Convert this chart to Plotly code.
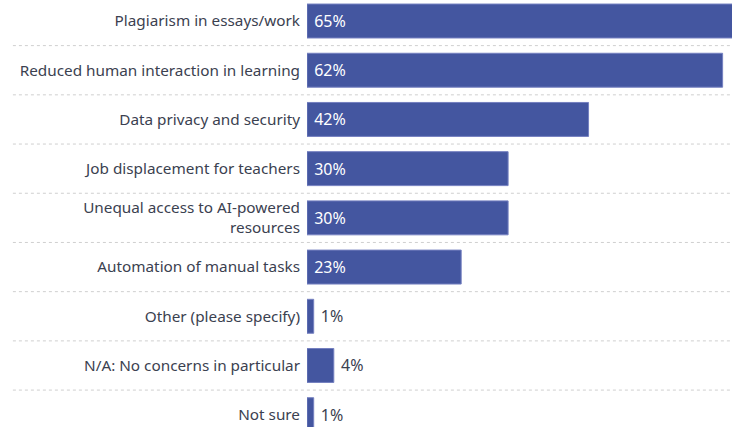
import plotly.graph_objects as go

categories = [
    "Plagiarism in essays/work",
    "Reduced human interaction in learning",
    "Data privacy and security",
    "Job displacement for teachers",
    "Unequal access to AI-powered<br>resources",
    "Automation of manual tasks",
    "Other (please specify)",
    "N/A: No concerns in particular",
    "Not sure",
]
values = [65, 62, 42, 30, 30, 23, 1, 4, 1]

BAR_COLOR = "#4456a0"
TEXT_COLOR = "#3b4150"
FONT = "Noto Sans"

positions = ["inside" if v >= 10 else "outside" for v in values]
labels = ["\u00a0" + f"{v}%" for v in values]

fig = go.Figure(
    go.Bar(
        x=values,
        y=categories,
        orientation="h",
        marker=dict(color=BAR_COLOR, line=dict(color="#7580c0", width=1)),
        text=labels,
        textposition=positions,
        insidetextanchor="start",
        insidetextfont=dict(color="white", size=16, family=FONT),
        outsidetextfont=dict(color=TEXT_COLOR, size=16, family=FONT),
        cliponaxis=True,
        hoverinfo="skip",
    )
)

n = len(categories)
shapes = []
for i in range(n - 1):
    shapes.append(
        dict(
            type="line",
            xref="paper",
            yref="y",
            x0=-0.692,
            x1=1,
            y0=i + 0.5,
            y1=i + 0.5,
            line=dict(color="#cfcfcf", width=1, dash="dot"),
            layer="below",
        )
    )

fig.update_layout(
    width=732,
    height=427,
    margin=dict(l=307, r=0, t=0, b=0),
    paper_bgcolor="white",
    plot_bgcolor="white",
    bargap=0.31,
    showlegend=False,
    font=dict(family=FONT, size=15.3, color=TEXT_COLOR),
    shapes=shapes,
    xaxis=dict(
        range=[0, 63.4],
        showgrid=False,
        zeroline=False,
        showticklabels=False,
        showline=False,
        fixedrange=True,
    ),
    yaxis=dict(
        type="category",
        range=[8.25, -0.427],
        showgrid=False,
        zeroline=False,
        showline=False,
        ticks="",
        ticklabelstandoff=6,
        tickfont=dict(family=FONT, size=15.3, color=TEXT_COLOR),
        fixedrange=True,
    ),
)

fig.write_html("out.html")
